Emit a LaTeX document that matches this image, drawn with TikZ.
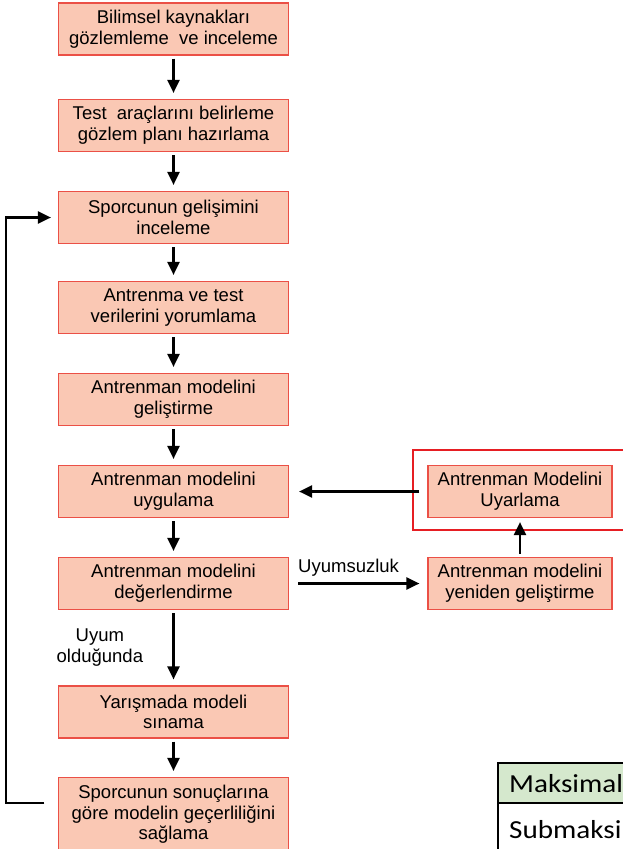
\documentclass[tikz,border=0pt]{standalone}
\usepackage{fontspec}
\setmainfont{Liberation Sans}
\newfontfamily\tablefont{Carlito}
\usetikzlibrary{positioning,arrows.meta}

\definecolor{boxfill}{RGB}{250,200,180}
\definecolor{boxline}{RGB}{235,80,70}
\definecolor{framered}{RGB}{230,30,35}
\definecolor{rowgreen}{RGB}{213,232,205}

\begin{document}
\begin{tikzpicture}[x=1pt, y=-1pt, node distance=92pt, on grid,
    stage/.style={rectangle, draw=boxline, line width=1.2pt, fill=boxfill,
        minimum width=230pt, minimum height=52pt, align=center,
        font=\fontsize{18.5}{20.7}\selectfont},
    flow/.style={line width=2.2pt, -{Triangle[length=13pt,width=12pt]},
        shorten <=3pt, shorten >=6pt},
    lbl/.style={font=\fontsize{18.5}{20.7}\selectfont, align=center},
    cell/.style={anchor=base west, inner sep=0pt, xscale=1.12, transform shape,
        font=\tablefont\fontsize{26}{30}\selectfont}]

    \useasboundingbox (0,0) rectangle (623,849);

    \node[stage] (b1) at (173.5,29) {Bilimsel kaynakları\\gözlemleme\ \ ve inceleme};
    \node[stage] (b2) [below=96.5pt of b1] {Test\ \ araçlarını belirleme\\gözlem planı hazırlama};
    \node[stage] (b3) [below=of b2] {Sporcunun gelişimini\\inceleme};
    \node[stage] (b4) [below=90pt of b3] {Antrenma ve test\\verilerini yorumlama};
    \node[stage] (b5) [below=of b4] {Antrenman modelini\\geliştirme};
    \node[stage] (b6) [below=of b5] {Antrenman modelini\\uygulama};
    \node[stage] (b7) [below=of b6] {Antrenman modelini\\değerlendirme};
    \node[stage] (b8) [below=128.5pt of b7] {Yarışmada modeli\\sınama};
    \node[stage, minimum height=74pt] (b9) [below=102.5pt of b8] {Sporcunun sonuçlarına\\göre modelin geçerliliğini\\sağlama};

    \node[stage, minimum width=184pt] (uy) [right=346.5pt of b6] {Antrenman Modelini\\Uyarlama};
    \node[stage, minimum width=184pt] (yg) [right=346.5pt of b7] {Antrenman modelini\\yeniden geliştirme};

    % frame round the adapting step
    \draw[draw=framered, line width=2pt] ([shift={(-14pt,15pt)}]uy.north west) rectangle ([shift={(20pt,-12pt)}]uy.south east);

    \path[flow]
        (b1) edge (b2)
        (b2) edge (b3)
        (b3) edge (b4)
        (b4) edge (b5)
        (b5) edge (b6)
        (b6) edge (b7)
        (b7) edge node[lbl, left=26pt] {Uyum\\olduğunda} (b8)
        (b8) edge (b9)

        (b7) edge[shorten <=9pt, shorten >=8pt] node[lbl, above, pos=0.43, yshift=3pt] {Uyumsuzluk} (yg)
        (yg) edge[shorten >=4pt] (uy)
        (uy) edge[shorten <=8pt, shorten >=10pt] (b6);

    % feedback loop
    \draw[flow, shorten <=13.5pt, shorten >=7pt] ([yshift=11.5pt]b9.west) -- ++(-52,0) |- (b3.west);

    % table corner
    \fill[rowgreen] (498,763) rectangle (630,803);
    \draw[line width=2pt] (630,763) -- (498,763) -- (498,860);
    \draw[line width=2pt] (498,803) -- (630,803);
    \node[cell] (mx) at (509,792) {Maksimal};
    \node[cell] (sb) at (509,838) {Submaksi};

\end{tikzpicture}
\end{document}
